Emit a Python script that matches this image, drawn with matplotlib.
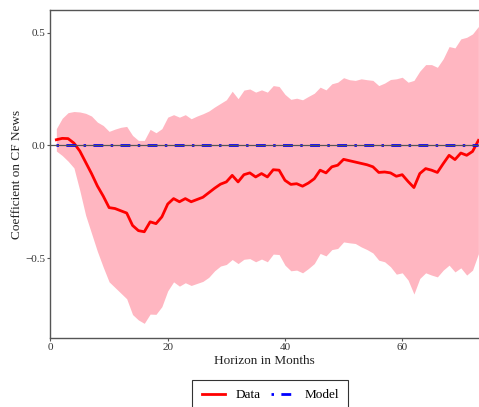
import numpy as np
import matplotlib
matplotlib.use("Agg")
import matplotlib.pyplot as plt

plt.rcParams['font.family'] = ['Liberation Serif', 'DejaVu Serif']
plt.rcParams['lines.scale_dashes'] = False

# horizon in months
months = np.arange(1, 74)

# estimated coefficient (data)
data_coef = [0.025, 0.031, 0.030, 0.010, -0.025, -0.075, -0.125, -0.18, -0.225, -0.276,
             -0.28, -0.29, -0.30, -0.355, -0.378, -0.383, -0.339, -0.347, -0.317, -0.26,
             -0.236, -0.25, -0.236, -0.25, -0.24, -0.23, -0.21, -0.19, -0.172, -0.162,
             -0.133, -0.162, -0.13, -0.122, -0.14, -0.125, -0.14, -0.108, -0.11, -0.155,
             -0.173, -0.17, -0.181, -0.167, -0.148, -0.11, -0.122, -0.095, -0.088, -0.062,
             -0.068, -0.074, -0.080, -0.086, -0.095, -0.12, -0.118, -0.122, -0.137, -0.13,
             -0.16, -0.187, -0.125, -0.103, -0.11, -0.12, -0.081, -0.044, -0.063, -0.034,
             -0.044, -0.027, 0.022]

# confidence band
band_lo = [-0.025, -0.045, -0.07, -0.10, -0.20, -0.31, -0.39, -0.47, -0.54, -0.605,
           -0.63, -0.655, -0.68, -0.75, -0.774, -0.789, -0.748, -0.749, -0.715, -0.645,
           -0.605, -0.624, -0.609, -0.621, -0.612, -0.603, -0.585, -0.556, -0.535, -0.528,
           -0.506, -0.524, -0.505, -0.502, -0.516, -0.504, -0.516, -0.482, -0.484, -0.531,
           -0.556, -0.553, -0.565, -0.546, -0.524, -0.479, -0.49, -0.462, -0.457, -0.428,
           -0.432, -0.435, -0.45, -0.462, -0.477, -0.509, -0.516, -0.538, -0.571, -0.565,
           -0.597, -0.659, -0.59, -0.565, -0.575, -0.583, -0.553, -0.531, -0.561, -0.543,
           -0.575, -0.553, -0.48]
band_hi = [0.074, 0.12, 0.145, 0.15, 0.148, 0.142, 0.13, 0.103, 0.088, 0.062,
           0.072, 0.08, 0.084, 0.044, 0.022, 0.022, 0.071, 0.056, 0.074, 0.125,
           0.136, 0.125, 0.136, 0.118, 0.13, 0.14, 0.152, 0.17, 0.186, 0.202,
           0.24, 0.207, 0.245, 0.25, 0.236, 0.246, 0.236, 0.265, 0.261, 0.226,
           0.204, 0.209, 0.202, 0.217, 0.231, 0.258, 0.246, 0.273, 0.28, 0.3,
           0.291, 0.288, 0.295, 0.291, 0.288, 0.265, 0.276, 0.292, 0.295, 0.302,
           0.28, 0.288, 0.329, 0.358, 0.358, 0.346, 0.384, 0.438, 0.432, 0.472,
           0.479, 0.494, 0.527]

# model response
model_coef = np.zeros(len(months))

fig = plt.figure(figsize=(4.79, 4.07), dpi=100)
ax = fig.add_axes([0.1054, 0.1695, 0.8946, 0.8059])

ax.fill_between(months, band_lo, band_hi, color='#ffb6c1', lw=0)
ax.plot(months, data_coef, color='red', lw=2.0, label='Data', zorder=3)
ax.plot(months, model_coef, color='blue', lw=2.0, label='Model', zorder=4,
        linestyle=(0, (1.8, 5.3, 7.1, 5.3)))
ax.axhline(0, color='#555555', lw=0.9, zorder=5)

ax.set_xlim(0, 73.1)
ax.set_ylim(-0.854, 0.6)
ax.set_xticks([0, 20, 40, 60])
ax.set_yticks([-0.5, 0.0, 0.5])
ax.set_yticklabels(['\u22120.5', '0.0', '0.5'])

for s in ['left', 'bottom', 'top']:
    ax.spines[s].set_color('#555555')
    ax.spines[s].set_linewidth(1.0)
ax.spines['right'].set_visible(False)
ax.tick_params(colors='#555555', labelcolor='#333333', labelsize=8, length=2, width=0.8, pad=1.5)

ax.set_xlabel('Horizon in Months', fontsize=9.5, color='#222222', labelpad=2)
ax.set_ylabel('Coefficient on CF News', fontsize=9.5, color='#222222', labelpad=2)

leg = fig.legend(loc='upper center', bbox_to_anchor=(0.5644, 0.0663), ncol=2,
                 fontsize=9.5, frameon=True, fancybox=False, edgecolor='black',
                 handlelength=1.75, borderpad=0.7, columnspacing=0.8, borderaxespad=0)
leg.get_frame().set_linewidth(0.8)

fig.savefig('out.png', dpi=100)
